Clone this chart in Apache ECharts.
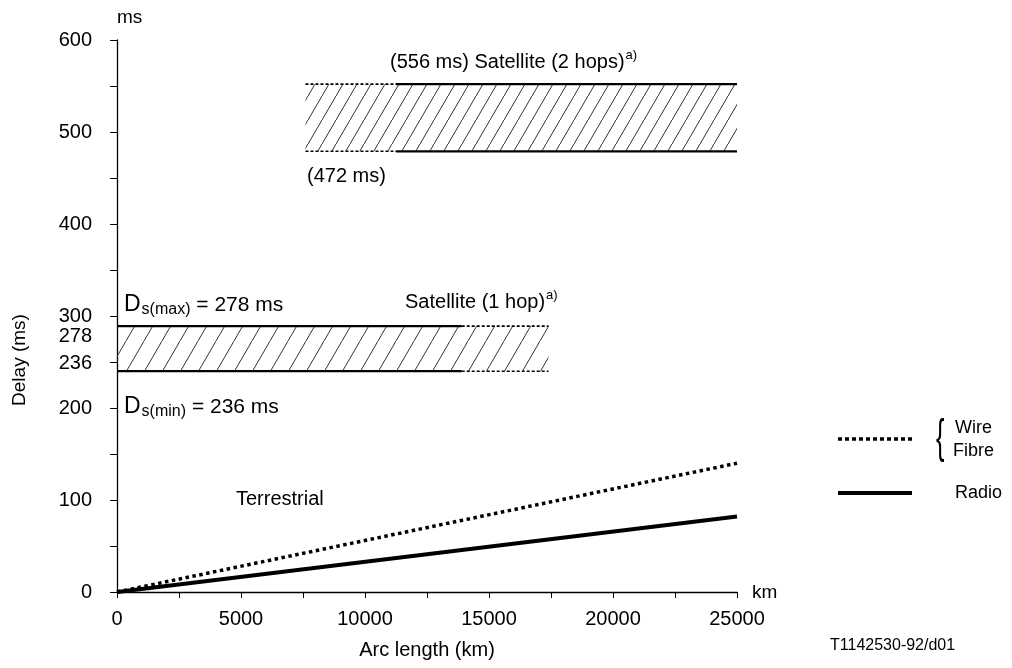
<!DOCTYPE html>
<html><head><meta charset="utf-8">
<script src="https://cdn.jsdelivr.net/npm/echarts@6/dist/echarts.min.js"></script>
<style>html,body{margin:0;padding:0;background:#fff}#c{width:1012px;height:668px}</style>
</head><body><div id="c"></div>
<script>
// ---- data ----
const distanceKm = [0, 25000];
const fibreDelayMs = [0, 140];   // Wire / Fibre (dotted)
const radioDelayMs = [0, 82];    // Radio (solid)
// Satellite 2 hops band: x = [dashed start, solid start, end], y = [low, high]
const sat2X = [7600, 11250, 25000];
const sat2Y = [479, 552];
// Satellite 1 hop band: x = [start, dashed start, end], y = [low, high]
const sat1X = [0, 13900, 17400];
const sat1Y = [240, 289];
const yLabelValues = [0, 100, 200, 236, 278, 300, 400, 500, 600];
const yTickValues = [0, 50, 100, 150, 200, 250, 300, 350, 400, 450, 500, 550, 600];
const xTickValues = [0, 2500, 5000, 7500, 10000, 12500, 15000, 17500, 20000, 22500, 25000];

const FONT = '"Liberation Sans", Arial, sans-serif';

function hatch(w, h) {
  const c = document.createElement('canvas');
  c.width = w; c.height = h;
  const g = c.getContext('2d');
  g.strokeStyle = '#333';
  g.lineWidth = 1;
  g.beginPath();
  g.moveTo(-w, 2 * h); g.lineTo(2 * w, -h);
  g.stroke();
  return { image: c, repeat: 'repeat' };
}

function seg(x0, x1, y) { return [[x0, y], [x1, y]]; }
const solidEdge = { color: '#000', width: 2.2, type: 'solid' };
const dashEdge = { color: '#000', width: 1.6, type: [3, 2] };
function edgeSeries(data, ls, extra) {
  return Object.assign({
    type: 'line', data: data, symbol: 'none', silent: true,
    lineStyle: ls, z: 3, animation: false
  }, extra || {});
}

const chart = echarts.init(document.getElementById('c'), null, { renderer: 'canvas' });
const option = {
  animation: false,
  backgroundColor: '#fff',
  textStyle: { fontFamily: FONT, color: '#000' },
  grid: { left: 117, right: 275, top: 40, bottom: 76, containLabel: false },
  xAxis: {
    type: 'value', min: 0, max: 25000, interval: 2500,
    name: 'Arc length (km)', nameLocation: 'middle', nameGap: 48,
    nameTextStyle: { fontFamily: FONT, fontSize: 20, color: '#000' },
    axisLine: { lineStyle: { color: '#000', width: 1.3 } },
    axisTick: { show: true, length: 6, customValues: xTickValues, lineStyle: { color: '#000' } },
    axisLabel: {
      margin: 17, fontFamily: FONT, fontSize: 20, color: '#000',
      formatter: v => (v % 5000 === 0 ? String(v) : '')
    },
    splitLine: { show: false }
  },
  yAxis: {
    type: 'value', min: 0, max: 600, interval: 50,
    axisLine: { show: true, lineStyle: { color: '#000', width: 1.3 } },
    axisTick: { show: true, length: 7, customValues: yTickValues, lineStyle: { color: '#000' } },
    axisLabel: {
      customValues: yLabelValues, margin: 25, fontFamily: FONT, fontSize: 20, color: '#000',
      formatter: v => (v === 236 ? '{s|236}' : String(v)),
      rich: { s: { fontFamily: FONT, fontSize: 20, color: '#000', padding: [0, 0, 22, 0] } }
    },
    splitLine: { show: false }
  },
  series: [
    // Satellite 2 hops band
    edgeSeries(seg(sat2X[0], sat2X[1], sat2Y[1]), dashEdge, {
      markArea: {
        silent: true,
        itemStyle: { color: hatch(14, 24), borderWidth: 0 },
        data: [[{ xAxis: sat2X[0], yAxis: sat2Y[0] }, { xAxis: sat2X[2], yAxis: sat2Y[1] }]]
      }
    }),
    edgeSeries(seg(sat2X[0], sat2X[1], sat2Y[0]), dashEdge),
    edgeSeries(seg(sat2X[1], sat2X[2], sat2Y[1]), solidEdge),
    edgeSeries(seg(sat2X[1], sat2X[2], sat2Y[0]), solidEdge),
    // Satellite 1 hop band
    edgeSeries(seg(sat1X[0], sat1X[1], sat1Y[1]), solidEdge, {
      markArea: {
        silent: true,
        itemStyle: { color: hatch(18, 31), borderWidth: 0 },
        data: [[{ xAxis: sat1X[0], yAxis: sat1Y[0] }, { xAxis: sat1X[2], yAxis: sat1Y[1] }]]
      }
    }),
    edgeSeries(seg(sat1X[0], sat1X[1], sat1Y[0]), solidEdge),
    edgeSeries(seg(sat1X[1], sat1X[2], sat1Y[1]), dashEdge),
    edgeSeries(seg(sat1X[1], sat1X[2], sat1Y[0]), dashEdge),
    // Terrestrial
    {
      name: 'Wire / Fibre', type: 'line', symbol: 'none', silent: true, z: 4,
      data: distanceKm.map((d, i) => [d, fibreDelayMs[i]]),
      lineStyle: { color: '#000', width: 3.5, type: [3.5, 3.5], cap: 'butt' }
    },
    {
      name: 'Radio', type: 'line', symbol: 'none', silent: true, z: 4,
      data: distanceKm.map((d, i) => [d, radioDelayMs[i]]),
      lineStyle: { color: '#000', width: 4 }
    }
  ],
  graphic: [
    { type: 'text', x: 20, y: 360, rotation: Math.PI / 2, style: { text: 'Delay (ms)', font: '19px ' + FONT, fill: '#000', textAlign: 'center', textVerticalAlign: 'middle' } },
    { type: 'text', x: 117, y: 18, style: { text: 'ms', font: '19px ' + FONT, fill: '#000', textAlign: 'left', textVerticalAlign: 'middle' } },
    { type: 'text', x: 752, y: 593, style: { text: 'km', font: '19px ' + FONT, fill: '#000', textAlign: 'left', textVerticalAlign: 'middle' } },
    { type: 'text', x: 390, y: 62, style: {
        text: '{t|(556 ms) Satellite (2 hops)}{a|a)}', textVerticalAlign: 'middle',
        rich: { t: { font: '20px ' + FONT, fill: '#000' }, a: { font: '13px ' + FONT, fill: '#000', padding: [0, 0, 13, 1] } }
    } },
    { type: 'text', x: 307, y: 176, style: { text: '(472 ms)', font: '20px ' + FONT, fill: '#000', textVerticalAlign: 'middle' } },
    { type: 'text', x: 124, y: 305, style: {
        text: '{d|D}{s|s(max)}{t| = 278 ms}', textVerticalAlign: 'middle',
        rich: { d: { font: '23px ' + FONT, fill: '#000' }, s: { font: '16px ' + FONT, fill: '#000', padding: [9, 0, 0, 1] }, t: { font: '21px ' + FONT, fill: '#000' } }
    } },
    { type: 'text', x: 405, y: 302, style: {
        text: '{t|Satellite (1 hop)}{a|a)}', textVerticalAlign: 'middle',
        rich: { t: { font: '20px ' + FONT, fill: '#000' }, a: { font: '13px ' + FONT, fill: '#000', padding: [0, 0, 13, 1] } }
    } },
    { type: 'text', x: 124, y: 407, style: {
        text: '{d|D}{s|s(min)}{t| = 236 ms}', textVerticalAlign: 'middle',
        rich: { d: { font: '23px ' + FONT, fill: '#000' }, s: { font: '16px ' + FONT, fill: '#000', padding: [9, 0, 0, 1] }, t: { font: '21px ' + FONT, fill: '#000' } }
    } },
    { type: 'text', x: 236, y: 499, style: { text: 'Terrestrial', font: '20px ' + FONT, fill: '#000', textVerticalAlign: 'middle' } },
    // legend
    { type: 'line', shape: { x1: 838, y1: 439, x2: 912, y2: 439 }, style: { stroke: '#000', lineWidth: 3.5, lineDash: [4, 3] } },
    { type: 'text', x: 936, y: 439, scaleX: 0.55, style: { text: '{', font: '300 46px ' + FONT, fill: '#000', textVerticalAlign: 'middle' } },
    { type: 'text', x: 955, y: 428, style: { text: 'Wire', font: '18px ' + FONT, fill: '#000', textVerticalAlign: 'middle' } },
    { type: 'text', x: 953, y: 451, style: { text: 'Fibre', font: '18px ' + FONT, fill: '#000', textVerticalAlign: 'middle' } },
    { type: 'line', shape: { x1: 838, y1: 493, x2: 912, y2: 493 }, style: { stroke: '#000', lineWidth: 4 } },
    { type: 'text', x: 955, y: 493, style: { text: 'Radio', font: '18px ' + FONT, fill: '#000', textVerticalAlign: 'middle' } },
    { type: 'text', x: 830, y: 646, style: { text: 'T1142530-92/d01', font: '16px ' + FONT, fill: '#000', textVerticalAlign: 'middle' } }
  ]
};
chart.setOption(option);
</script></body></html>
